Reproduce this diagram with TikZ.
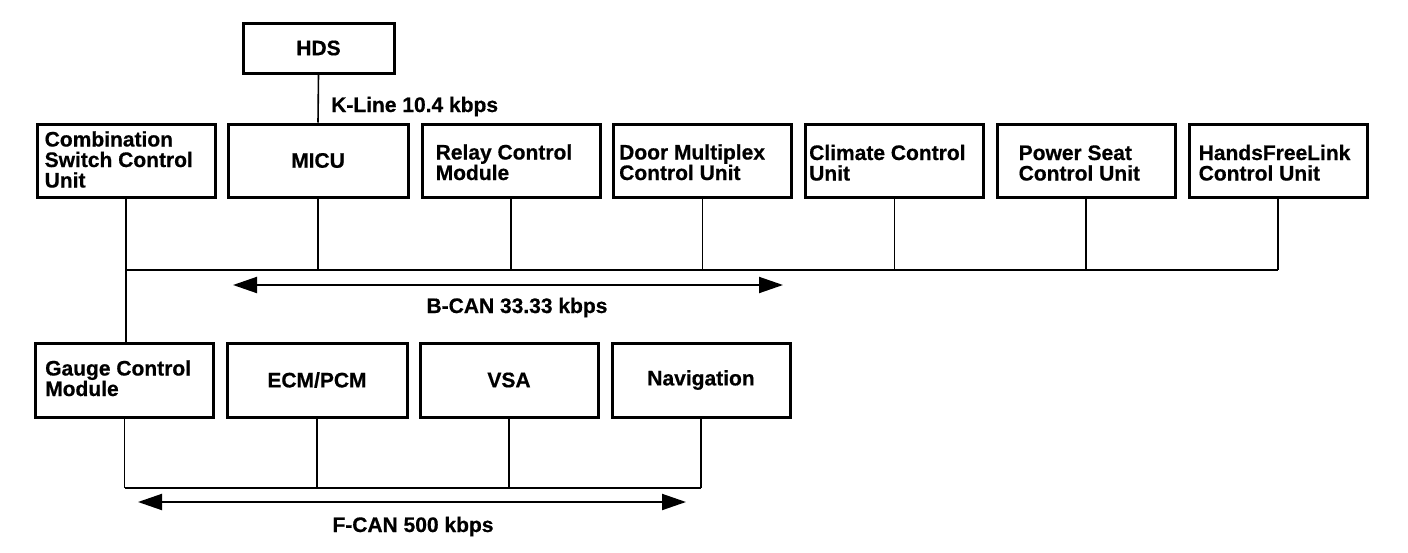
\documentclass[tikz,border=0pt]{standalone}
\usepackage{fontspec}
\setmainfont{Liberation Sans}[BoldFeatures={FakeBold=0.6}]
\usetikzlibrary{arrows.meta,calc}
\newcommand{\lblfont}{\fontsize{21}{20.5}\selectfont\bfseries}
\begin{document}
\begin{tikzpicture}[x=1pt,y=-1pt,
  unitbox/.style={draw, line width=3pt, minimum width=178pt, minimum height=73pt, inner sep=0pt, font=\lblfont},
  boxtext/.style={anchor=base west, align=left, inner sep=0pt, font=\lblfont},
  plaintext/.style={inner sep=0pt, font=\lblfont},
  wire/.style={line width=1.6pt},
  bus/.style={line width=2.6pt},
  rate/.style={line width=2pt, {Triangle[length=24pt,width=16pt]}-{Triangle[length=24pt,width=16pt]}}
]
\useasboundingbox (0,0) rectangle (1408,552);

% top units
\node[unitbox, minimum width=151pt, minimum height=50pt] (hds) at (318.5,48) {HDS};
\node[unitbox] (comb) at (126,160.5) {};
\node[unitbox, minimum width=180pt] (micu) at (318,160.5) {MICU};
\node[unitbox] (relay) at (511,160.5) {};
\node[unitbox] (door) at (702.5,160.5) {};
\node[unitbox] (clim) at (894.5,160.5) {};
\node[unitbox] (pseat) at (1086,160.5) {};
\node[unitbox] (hfl) at (1278,160.5) {};

% base anchor of a multi-line node = baseline of its last line
\node[boxtext] (combt) at ($(comb.north west)+(9,65)$) {Combination\\Switch Control\\Unit};
\node[boxtext] (relayt) at ($(relay.north west)+(15,57.5)$) {Relay Control\\Module};
\node[boxtext] (doort) at ($(door.north west)+(7,57.5)$) {Door Multiplex\\Control Unit};
\node[boxtext] (climt) at ($(clim.north west)+(5,58)$) {Climate Control\\Unit};
\node[boxtext] (pseatt) at ($(pseat.north west)+(23,58)$) {Power Seat\\Control Unit};
\node[boxtext] (hflt) at ($(hfl.north west)+(11,58)$) {HandsFreeLink\\Control Unit};

% bottom units
\node[unitbox, minimum height=74pt] (gauge) at (124.5,380) {};
\node[unitbox, minimum width=180pt, minimum height=74pt] (ecm) at (317,380) {ECM/PCM};
\node[unitbox, minimum height=74pt] (vsa) at (509,380) {VSA};
\node[unitbox, minimum height=74pt] (nav) at (701,380) {Navigation};
\node[boxtext] (gauget) at ($(gauge.north west)+(11,54.5)$) {Gauge Control\\Module};

% K-line
\draw[wire] (hds.south) -- (micu.north);
\node[plaintext, anchor=base west] (kline) at (331,112) {K-Line 10.4 kbps};

% B-CAN bus
\coordinate (bL) at (126,270);
\coordinate (bR) at (1278,270);
\draw[bus] (bL) -- (bR);
\foreach \u in {micu,relay,door,clim,pseat,hfl}
  \draw[wire] (\u.south) -- (\u.south |- bL);
\draw[wire] (comb.south) -- (comb.south |- gauge.north);

\coordinate (baL) at (233,285);
\coordinate (baR) at (783,285);
\draw[rate] (baL) -- (baR);
\node[plaintext, anchor=base] (bcan) at (517,313) {B-CAN 33.33 kbps};

% F-CAN bus
\coordinate (fL) at (124.5,488);
\coordinate (fR) at (701,488);
\draw[bus] (fL) -- (fR);
\foreach \u in {gauge,ecm,vsa,nav}
  \draw[wire] (\u.south) -- (\u.south |- fL);

\coordinate (faL) at (138,502);
\coordinate (faR) at (686,502);
\draw[rate] (faL) -- (faR);
\node[plaintext, anchor=base] (fcan) at (413,532) {F-CAN 500 kbps};
\end{tikzpicture}
\end{document}
